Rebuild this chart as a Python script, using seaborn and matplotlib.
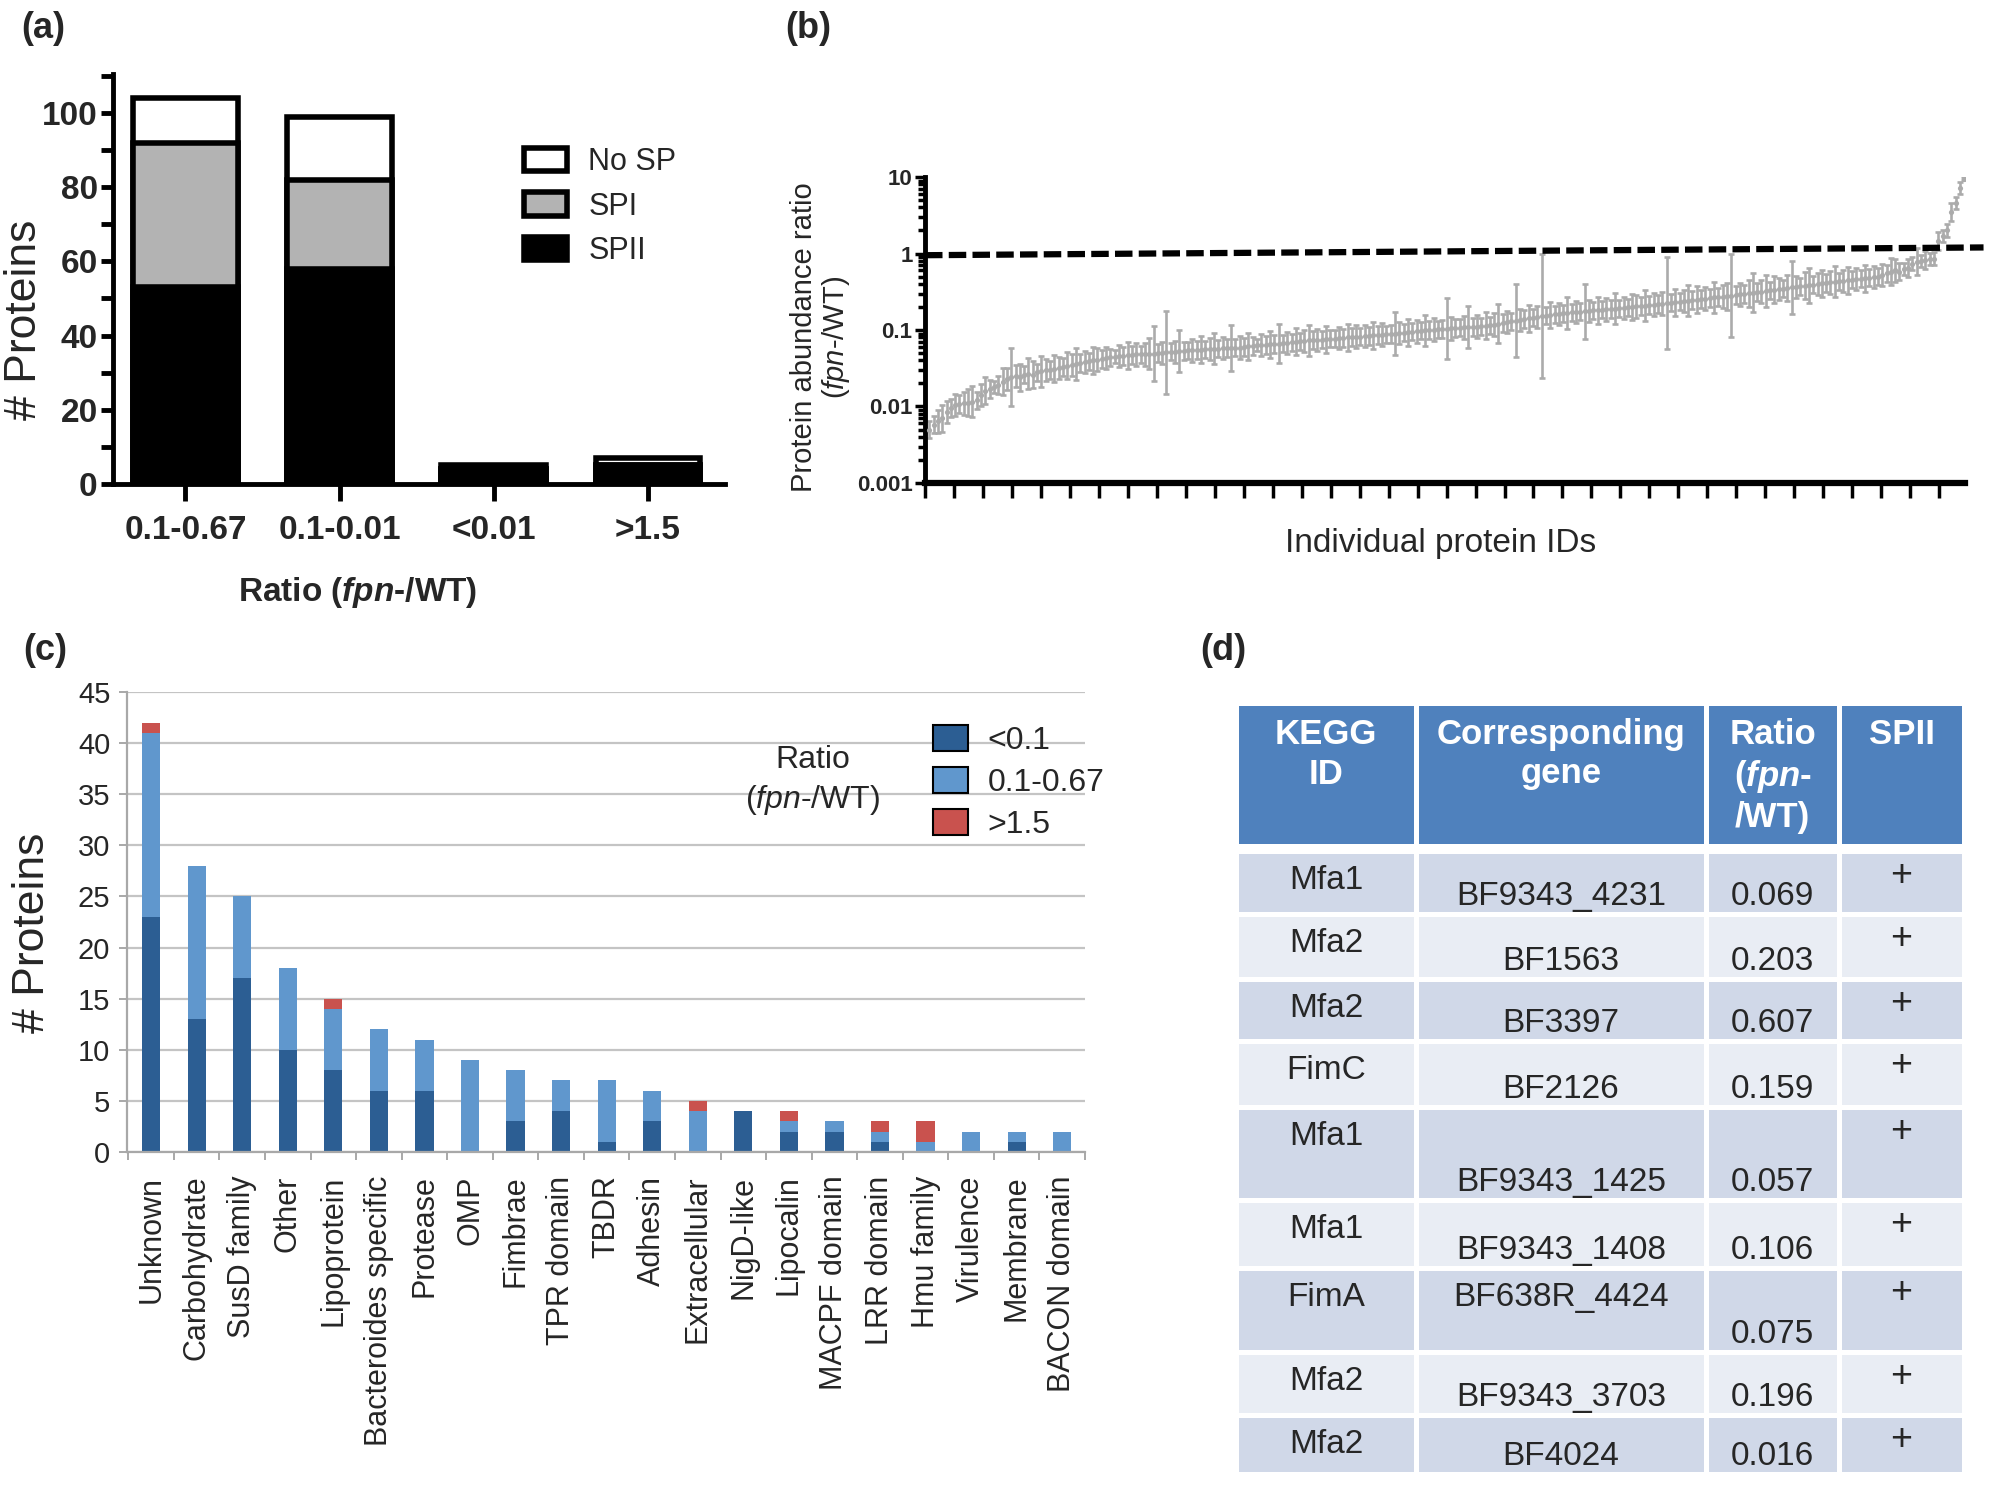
import numpy as np
import pandas as pd
import matplotlib
matplotlib.use('Agg')
import matplotlib.pyplot as plt
from matplotlib.patches import Patch, Rectangle
from matplotlib.ticker import FixedLocator, MultipleLocator, LogLocator, NullFormatter
import seaborn as sns

# ---- panel (a): signal peptide counts per ratio class ----
a_cats = ['0.1-0.67', '0.1-0.01', '<0.01', '>1.5']
a_spii = [53, 58, 4, 5]
a_spi = [39, 24, 0, 0]
a_nosp = [12, 17, 1, 2]

# ---- panel (b): sorted protein abundance ratios (fpn-/WT) ----
b_ratio = [
    0.0050, 0.0058, 0.0064, 0.0070, 0.0085, 0.0095, 0.0105, 0.0108, 0.0110, 0.0112,
    0.0115, 0.0120, 0.0140, 0.0160, 0.0170, 0.0180, 0.0190, 0.0210, 0.0230, 0.0240,
    0.025, 0.024, 0.026, 0.027, 0.026, 0.028, 0.029, 0.030, 0.030, 0.031,
    0.032, 0.033, 0.034, 0.035, 0.036, 0.037, 0.038, 0.039, 0.040, 0.041,
    0.042, 0.043, 0.044, 0.045, 0.046, 0.046, 0.047, 0.047, 0.048, 0.048,
    0.048, 0.049, 0.049, 0.050, 0.050, 0.051, 0.052, 0.052, 0.053, 0.053,
    0.054, 0.054, 0.055, 0.055, 0.056, 0.056, 0.057, 0.057, 0.058, 0.058,
    0.058, 0.059, 0.059, 0.060, 0.061, 0.062, 0.063, 0.064, 0.064, 0.065,
    0.066, 0.066, 0.067, 0.068, 0.069, 0.070, 0.071, 0.072, 0.073, 0.074,
    0.074, 0.075, 0.076, 0.077, 0.077, 0.078, 0.079, 0.080, 0.081, 0.082,
    0.082, 0.083, 0.084, 0.085, 0.086, 0.087, 0.088, 0.089, 0.090, 0.091,
    0.092, 0.093, 0.095, 0.096, 0.098, 0.099, 0.100, 0.101, 0.102, 0.103,
    0.104, 0.105, 0.106, 0.107, 0.108, 0.109, 0.110, 0.111, 0.112, 0.113,
    0.115, 0.118, 0.121, 0.124, 0.127, 0.130, 0.133, 0.136, 0.139, 0.142,
    0.145, 0.148, 0.151, 0.154, 0.157, 0.160, 0.162, 0.165, 0.167, 0.170,
    0.172, 0.174, 0.176, 0.178, 0.180, 0.182, 0.184, 0.186, 0.188, 0.190,
    0.192, 0.194, 0.197, 0.200, 0.203, 0.206, 0.209, 0.212, 0.215, 0.218,
    0.221, 0.224, 0.227, 0.230, 0.234, 0.238, 0.242, 0.246, 0.250, 0.254,
    0.258, 0.262, 0.266, 0.270, 0.274, 0.278, 0.282, 0.287, 0.292, 0.297,
    0.302, 0.307, 0.312, 0.318, 0.324, 0.330, 0.336, 0.342, 0.348, 0.354,
    0.360, 0.366, 0.372, 0.378, 0.385, 0.392, 0.399, 0.406, 0.413, 0.420,
    0.427, 0.434, 0.441, 0.448, 0.455, 0.462, 0.469, 0.476, 0.483, 0.490,
    0.50, 0.52, 0.55, 0.58, 0.60, 0.58, 0.62, 0.65, 0.74, 0.78,
    0.80, 0.82, 0.84, 0.86, 1.45, 1.70, 2.00, 3.50, 4.60, 7.20,
    9.5,
]
# spread of each ratio, as a fold factor (bar goes from value/f to value*f)
b_err = [
    1.3, 1.3, 1.4, 1.5, 1.4, 1.3, 1.4, 1.3, 1.4, 1.5,
    1.6, 1.3, 1.4, 1.5, 1.3, 1.2, 1.3, 1.5, 1.4, 2.4,
    1.4, 1.5, 1.3, 1.6, 1.5, 1.3, 1.6, 1.4, 1.3, 1.5,
    1.4, 1.3, 1.5, 1.4, 1.6, 1.3, 1.4, 1.3, 1.5, 1.4,
    1.3, 1.4, 1.3, 1.2, 1.4, 1.3, 1.5, 1.3, 1.4, 1.3,
    1.4, 1.6, 2.3, 1.3, 1.4, 3.5, 1.3, 1.4, 1.9, 1.3,
    1.3, 1.4, 1.3, 1.5, 1.3, 1.4, 1.6, 1.3, 1.4, 1.3,
    2.0, 1.3, 1.4, 1.3, 1.5, 1.3, 1.2, 1.4, 1.3, 1.5,
    1.3, 1.8, 1.3, 1.4, 1.3, 1.5, 1.3, 1.4, 1.6, 1.3,
    1.4, 1.3, 1.5, 1.3, 1.3, 1.4, 1.3, 1.5, 1.3, 1.4,
    1.3, 1.4, 1.3, 1.5, 1.3, 1.4, 1.3, 1.3, 1.9, 1.4,
    1.3, 1.5, 1.3, 1.4, 1.3, 1.6, 1.3, 1.4, 1.3, 1.3,
    2.5, 1.4, 1.3, 1.3, 1.4, 1.9, 1.3, 1.4, 1.3, 1.5,
    1.3, 1.4, 1.8, 1.3, 1.4, 1.3, 3.0, 1.4, 1.3, 1.5,
    1.3, 1.4, 6.5, 1.3, 1.5, 1.3, 1.4, 1.3, 1.6, 1.3,
    1.4, 1.3, 2.3, 1.4, 1.3, 1.5, 1.3, 1.4, 1.3, 1.6,
    1.3, 1.4, 1.3, 1.5, 1.4, 1.3, 1.6, 1.3, 1.4, 1.3,
    1.4, 4.0, 1.3, 1.5, 1.3, 1.4, 1.6, 1.3, 1.5, 1.3,
    1.4, 1.3, 1.6, 1.3, 1.4, 1.5, 3.5, 1.3, 1.4, 1.3,
    1.5, 1.8, 1.3, 1.4, 1.6, 1.3, 1.5, 1.4, 1.3, 1.5,
    2.2, 1.4, 1.3, 1.5, 1.7, 1.3, 1.4, 1.5, 1.3, 1.4,
    1.6, 1.3, 1.4, 1.5, 1.3, 1.4, 1.3, 1.5, 1.3, 1.4,
    1.3, 1.4, 1.3, 1.5, 1.4, 1.3, 1.2, 1.3, 1.2, 1.5,
    1.2, 1.3, 1.2, 1.2, 1.3, 1.2, 1.2, 1.3, 1.2, 1.2,
    1.05,
]
b_threshold = [0.95, 1.2]   # dashed "ratio = 1" line, as drawn (slightly tilted)
b_yticks = [0.001, 0.01, 0.1, 1, 10]
b_yticklabels = ['0.001', '0.01', '0.1', '1', '10']

# ---- panel (c): functional categories ----
c_cats = ['Unknown', 'Carbohydrate', 'SusD family', 'Other', 'Lipoprotein',
          'Bacteroides specific', 'Protease', 'OMP', 'Fimbrae', 'TPR domain',
          'TBDR', 'Adhesin', 'Extracellular', 'NigD-like', 'Lipocalin',
          'MACPF domain', 'LRR domain', 'Hmu family', 'Virulence', 'Membrane',
          'BACON domain']
c_low = [23, 13, 17, 10, 8, 6, 6, 0, 3, 4, 1, 3, 0, 4, 2, 2, 1, 0, 0, 1, 0]
c_mid = [18, 15, 8, 8, 6, 6, 5, 9, 5, 3, 6, 3, 4, 0, 1, 1, 1, 1, 2, 1, 2]
c_high = [1, 0, 0, 0, 1, 0, 0, 0, 0, 0, 0, 0, 1, 0, 1, 0, 1, 2, 0, 0, 0]
c_labels = ['<0.1', '0.1-0.67', '>1.5']

# ---- panel (d): table ----
d_header = ['KEGG\nID', 'Corresponding\ngene', 'Ratio\n($\\mathbfit{fpn}$-\n/WT)', 'SPII']
d_kegg = ['Mfa1', 'Mfa2', 'Mfa2', 'FimC', 'Mfa1', 'Mfa1', 'FimA', 'Mfa2', 'Mfa2']
d_gene = ['BF9343_4231', 'BF1563', 'BF3397', 'BF2126', 'BF9343_1425',
          'BF9343_1408', 'BF638R_4424', 'BF9343_3703', 'BF4024']
d_ratio = ['0.069', '0.203', '0.607', '0.159', '0.057', '0.106', '0.075', '0.196', '0.016']
d_spii = ['+'] * 9

# ---------------------------------------------------------------
sns.set_style('white')
plt.rcParams['font.family'] = ['Liberation Sans', 'DejaVu Sans']
plt.rcParams['mathtext.fontset'] = 'custom'
plt.rcParams['mathtext.rm'] = 'Liberation Sans'
plt.rcParams['mathtext.it'] = 'Liberation Sans:italic'
plt.rcParams['mathtext.bf'] = 'Liberation Sans:bold'
plt.rcParams['mathtext.bfit'] = 'Liberation Sans:italic:bold'

W, H = 1991, 1486
fig = plt.figure(figsize=(W / 100, H / 100), dpi=100)


def box(x0, y0, x1, y1):
    return [x0 / W, 1 - y1 / H, (x1 - x0) / W, (y1 - y0) / H]


def panel_tag(x, y, s):
    fig.text(x / W, 1 - y / H, s, ha='left', va='center', fontsize=26, fontweight='bold')


# ---- (a) ----
ax_a = fig.add_axes(box(113, 74, 725, 484))
df_a = pd.DataFrame({'ratio': a_cats, 'SPII': a_spii, 'SPI': a_spi, 'No SP': a_nosp})
df_a['upto_spi'] = df_a['SPII'] + df_a['SPI']
df_a['total'] = df_a['upto_spi'] + df_a['No SP']
for col, fc in [('total', 'white'), ('upto_spi', '#b3b3b3'), ('SPII', 'black')]:
    sns.barplot(data=df_a, x='ratio', y=col, color=fc, saturation=1, width=0.68,
                edgecolor='black', linewidth=4, ax=ax_a)
ax_a.set_xlim(-0.47, 3.5)
ax_a.set_ylim(0, 110.5)
ax_a.yaxis.set_major_locator(MultipleLocator(20))
ax_a.yaxis.set_minor_locator(MultipleLocator(10))
for s in ['top', 'right']:
    ax_a.spines[s].set_visible(False)
for s in ['left', 'bottom']:
    ax_a.spines[s].set_linewidth(3.5)
    ax_a.spines[s].set_color('black')
ax_a.tick_params(axis='both', which='both', direction='out', width=3.5, color='black',
                 left=True, bottom=True)
ax_a.tick_params(axis='y', which='both', length=9, pad=2, labelsize=24)
ax_a.tick_params(axis='x', which='major', length=12, pad=10, labelsize=24)
for lab in ax_a.get_xticklabels() + ax_a.get_yticklabels():
    lab.set_fontweight('bold')
ax_a.set_ylabel('# Proteins', fontsize=32)
ax_a.yaxis.set_label_coords(-0.111, 0.40)
ax_a.set_xlabel('Ratio ($\\mathbfit{fpn}$-/WT)', fontsize=24, fontweight='bold', va='top')
ax_a.xaxis.set_label_coords(0.40, -0.222)
a_handles = [Patch(facecolor='white', edgecolor='black', linewidth=4, label='No SP'),
             Patch(facecolor='#b3b3b3', edgecolor='black', linewidth=4, label='SPI'),
             Patch(facecolor='black', edgecolor='black', linewidth=4, label='SPII')]
ax_a.legend(handles=a_handles, loc='upper left',
            bbox_to_anchor=((524 - 113) / 612, (484 - 147) / 410),
            frameon=False, fontsize=22, handlelength=1.4, handleheight=0.8,
            handletextpad=0.7, labelspacing=0.48, borderpad=0, borderaxespad=0)
panel_tag(21, 28, '(a)')

# ---- (b) ----
ax_b = fig.add_axes(box(925, 177, 1965, 483))
b_idx = np.arange(len(b_ratio))
b_val = np.array(b_ratio)
b_f = np.array(b_err)
grey = '#ababab'
ax_b.errorbar(b_idx, b_val, yerr=[b_val - b_val / b_f, b_val * b_f - b_val], fmt='none',
              ecolor=grey, elinewidth=1.9, capsize=2.4, capthick=1.9, zorder=2)
sns.scatterplot(x=b_idx, y=b_val, color=grey, s=14, linewidth=0, ax=ax_b, zorder=3)
ax_b.set_yscale('log')
ax_b.set_ylim(0.001, 10)
ax_b.set_xlim(-1, 240.2)
ax_b.plot([-1, 244.5], b_threshold, color='black', linewidth=4.5,
          linestyle=(0, (2.8, 1.0)), clip_on=False, zorder=4)
ax_b.yaxis.set_major_locator(FixedLocator(b_yticks))
ax_b.set_yticklabels(b_yticklabels)
ax_b.yaxis.set_minor_locator(LogLocator(base=10, subs=np.arange(2, 10)))
ax_b.yaxis.set_minor_formatter(NullFormatter())
ax_b.set_xticks(np.arange(-1, 236, 6.72))
ax_b.tick_params(axis='x', which='major', bottom=True, length=11, width=2.5,
                 color='black', labelbottom=False)
ax_b.tick_params(axis='y', which='major', left=True, length=7, width=2.5, color='black',
                 labelsize=16, pad=2)
ax_b.tick_params(axis='y', which='minor', left=True, length=5, width=2.5, color='black')
for lab in ax_b.get_yticklabels():
    lab.set_fontweight('bold')
for s in ['top', 'right']:
    ax_b.spines[s].set_visible(False)
ax_b.spines['left'].set_linewidth(3.5)
ax_b.spines['bottom'].set_linewidth(4.5)
ax_b.spines['left'].set_color('black')
ax_b.spines['bottom'].set_color('black')
ax_b.set_ylabel('Protein abundance ratio\n($\\mathit{fpn}$-/WT)', fontsize=21,
                linespacing=1.1)
ax_b.yaxis.set_label_coords(-0.070, 0.477)
ax_b.set_xlabel('Individual protein IDs', fontsize=24, va='top')
ax_b.xaxis.set_label_coords(0.496, -0.147)
panel_tag(785, 28, '(b)')

# ---- (c) ----
ax_c = fig.add_axes(box(127, 692, 1085, 1152))
df_c = pd.DataFrame({'cat': c_cats, 'low': c_low, 'mid': c_mid, 'high': c_high})
df_c['low_mid'] = df_c['low'] + df_c['mid']
df_c['total'] = df_c['low_mid'] + df_c['high']
c_colors = ['#2c5e93', '#6097cd', '#c9524e']
for col, fc in [('total', c_colors[2]), ('low_mid', c_colors[1]), ('low', c_colors[0])]:
    sns.barplot(data=df_c, x='cat', y=col, color=fc, saturation=1, width=0.4,
                linewidth=0, ax=ax_c)
ax_c.set_ylim(0, 45)
ax_c.set_xlim(-0.53, 20.5)
ax_c.yaxis.set_major_locator(MultipleLocator(5))
ax_c.set_axisbelow(True)
ax_c.grid(axis='y', color='#c4c4c4', linewidth=1.6)
ax_c.grid(axis='x', visible=False)
for s in ['top', 'right']:
    ax_c.spines[s].set_visible(False)
for s in ['left', 'bottom']:
    ax_c.spines[s].set_color('#a8a8a8')
    ax_c.spines[s].set_linewidth(1.6)
ax_c.set_xticks(range(len(c_cats)))
ax_c.set_xticklabels(c_cats, rotation=90, fontsize=22)
ax_c.set_xticks(np.arange(-0.5, len(c_cats), 1), minor=True)
ax_c.tick_params(axis='x', which='major', length=0, pad=17)
ax_c.tick_params(axis='x', which='minor', bottom=True, length=6, width=1.4, color='#a8a8a8')
ax_c.tick_params(axis='y', which='major', left=True, length=6, width=1.4, color='#a8a8a8',
                 labelsize=21, pad=6)
ax_c.set_xlabel('')
ax_c.set_ylabel('# Proteins', fontsize=32)
ax_c.yaxis.set_label_coords(-0.077, 0.476)
c_handles = [Patch(facecolor=c, edgecolor='black', linewidth=1.5, label=l)
             for c, l in zip(c_colors, c_labels)]
ax_c.legend(handles=c_handles, loc='upper left',
            bbox_to_anchor=((933 - 127) / 958, (1152 - 725) / 460),
            frameon=False, fontsize=23, handlelength=1.1, handleheight=0.87,
            handletextpad=0.6, labelspacing=0.35, borderpad=0, borderaxespad=0)
ax_c.text((813 - 127) / 958, (1152 - 781) / 460, 'Ratio\n($\\mathit{fpn}$-/WT)',
          transform=ax_c.transAxes, ha='center', va='center', fontsize=23, linespacing=1.3)
panel_tag(23, 650, '(c)')

# ---- (d) ----
ax_d = fig.add_axes(box(1236, 706, 1964, 1474))
ax_d.set_xlim(0, 728)
ax_d.set_ylim(768, 0)
ax_d.axis('off')
col_edges = [0, 180, 470, 603, 728]
gap = 5
header_h = 138
body_top = 145
row_h = [63, 65, 62, 66, 93, 68, 84, 63, 59]
gene_on_top = [False, False, False, False, False, False, True, False, False]
for j, txt in enumerate(d_header):
    x0, x1 = col_edges[j], col_edges[j + 1]
    ax_d.add_patch(Rectangle((x0 + gap / 2, 0), x1 - x0 - gap, header_h,
                             facecolor='#4f81bd', edgecolor='none'))
    ax_d.text((x0 + x1) / 2, 12, txt, ha='center', va='top', color='white',
              fontsize=25, fontweight='bold', linespacing=1.25)
top = body_top
for r in range(len(d_kegg)):
    h = row_h[r]
    fc = '#d0d8e8' if r % 2 == 0 else '#e9edf4'
    for j in range(4):
        x0, x1 = col_edges[j], col_edges[j + 1]
        ax_d.add_patch(Rectangle((x0 + gap / 2, top + gap / 2), x1 - x0 - gap, h - gap,
                                 facecolor=fc, edgecolor='none'))
    cx = [(col_edges[j] + col_edges[j + 1]) / 2 for j in range(4)]
    y_hi = top + 38
    y_lo = top + h - 9
    ax_d.text(cx[0], y_hi, d_kegg[r], ha='center', va='baseline', fontsize=24)
    ax_d.text(cx[1], y_hi if gene_on_top[r] else y_lo, d_gene[r], ha='center',
              va='baseline', fontsize=24)
    ax_d.text(cx[2], y_lo, d_ratio[r], ha='center', va='baseline', fontsize=24)
    ax_d.text(cx[3], y_hi - 3, d_spii[r], ha='center', va='baseline', fontsize=27)
    top += h
panel_tag(1200, 650, '(d)')

fig.savefig('out.png', dpi=100)
